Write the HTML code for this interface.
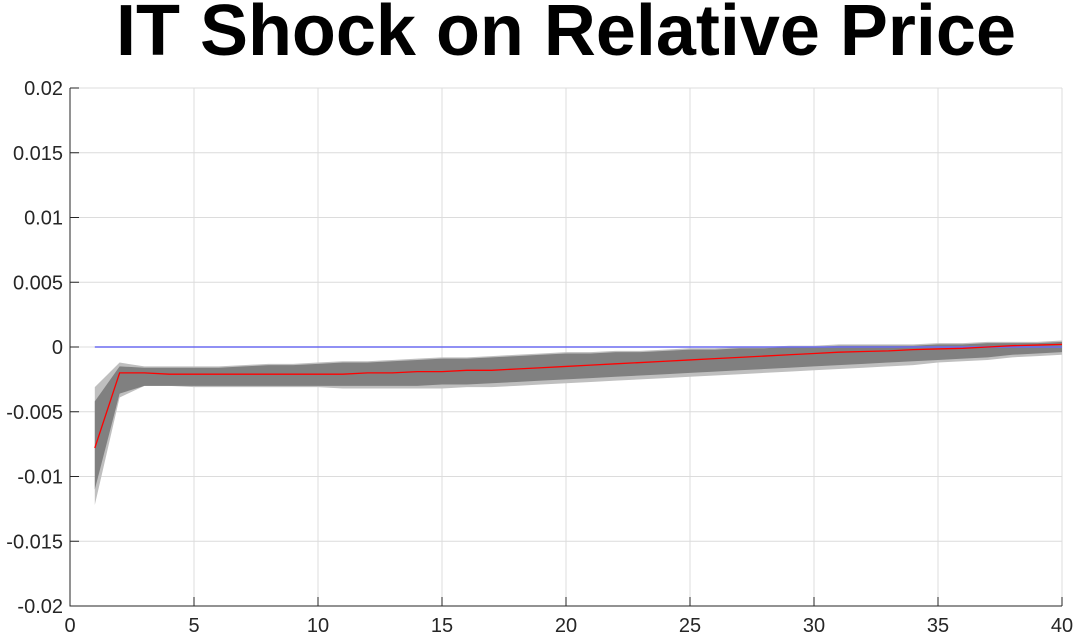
<!DOCTYPE html>
<html><head><meta charset="utf-8">
<style>
body{margin:0;background:#fff;width:1075px;height:635px;overflow:hidden;font-family:"Liberation Sans",sans-serif}
</style></head>
<body>
<svg id="chart" width="1075" height="635" xmlns="http://www.w3.org/2000/svg">
<text x="566" y="55" text-anchor="middle" font-family="Liberation Sans, sans-serif" font-weight="bold" font-size="72" textLength="900" lengthAdjust="spacingAndGlyphs">IT Shock on Relative Price</text>
<g id="grid"></g>
<g id="bands"></g>
<g id="lines"></g>
<g id="axes"></g>
</svg>
<script>
const periods=[1,2,3,4,5,6,7,8,9,10,11,12,13,14,15,16,17,18,19,20,21,22,23,24,25,26,27,28,29,30,31,32,33,34,35,36,37,38,39,40];
const median=[-0.0078,-0.002,-0.002,-0.0021,-0.0021,-0.0021,-0.0021,-0.0021,-0.0021,-0.0021,-0.0021,-0.002,-0.002,-0.0019,-0.0019,-0.0018,-0.0018,-0.0017,-0.0016,-0.0015,-0.0014,-0.0013,-0.0012,-0.0011,-0.001,-0.0009,-0.0008,-0.0007,-0.0006,-0.0005,-0.0004,-0.00035,-0.0003,-0.0002,-0.00015,-0.0001,0,0.0001,0.00015,0.0002];
const innerUpper=[-0.0042,-0.0015,-0.0016,-0.0016,-0.0016,-0.0016,-0.0015,-0.0014,-0.0014,-0.0013,-0.0012,-0.0012,-0.0011,-0.001,-0.0009,-0.0009,-0.0008,-0.0007,-0.0006,-0.0005,-0.0005,-0.0004,-0.0004,-0.0003,-0.0002,-0.0002,-0.0001,-0.0001,0,0,0.0001,0.0001,0.0001,0.0001,0.0002,0.0002,0.0003,0.0003,0.0003,0.0004];
const innerLower=[-0.011,-0.0036,-0.003,-0.003,-0.003,-0.003,-0.003,-0.003,-0.003,-0.003,-0.003,-0.003,-0.003,-0.003,-0.0029,-0.0029,-0.0028,-0.0027,-0.0026,-0.0025,-0.0024,-0.0023,-0.0022,-0.0021,-0.002,-0.0019,-0.0018,-0.0017,-0.0016,-0.0015,-0.0014,-0.0013,-0.0012,-0.0011,-0.001,-0.0009,-0.0008,-0.0006,-0.0005,-0.0004];
const outerUpper=[-0.0031,-0.0012,-0.0015,-0.0015,-0.0015,-0.0015,-0.0014,-0.0013,-0.0013,-0.0012,-0.0011,-0.0011,-0.001,-0.0009,-0.0008,-0.0008,-0.0007,-0.0006,-0.0005,-0.0004,-0.0004,-0.0003,-0.0003,-0.0002,-0.0001,-0.0001,0,0,0.0001,0.0001,0.0002,0.0002,0.0002,0.0002,0.0003,0.0003,0.0004,0.0004,0.0004,0.0005];
const outerLower=[-0.0122,-0.0039,-0.003,-0.003,-0.0031,-0.0031,-0.0031,-0.0031,-0.0031,-0.0031,-0.0032,-0.0032,-0.0032,-0.0032,-0.0032,-0.0031,-0.0031,-0.003,-0.0029,-0.0028,-0.0027,-0.0026,-0.0025,-0.0024,-0.0023,-0.0022,-0.0021,-0.002,-0.0019,-0.0018,-0.0017,-0.0016,-0.0015,-0.0014,-0.0012,-0.0011,-0.001,-0.0008,-0.0007,-0.0006];
const xTicks=[0,5,10,15,20,25,30,35,40];
const yTicks=[-0.02,-0.015,-0.01,-0.005,0,0.005,0.01,0.015,0.02];
const yTickLabels=["-0.02","-0.015","-0.01","-0.005","0","0.005","0.01","0.015","0.02"];
const zeroLine=[0,0];
const zeroX=[1,40];

const L=70,R=1062,T=88,B=606;
const xs=v=>L+(v-0)/(40-0)*(R-L);
const ys=v=>B-(v+0.02)/0.04*(B-T);
const NS="http://www.w3.org/2000/svg";
function mk(tag,attrs,parent){const e=document.createElementNS(NS,tag);for(const k in attrs)e.setAttribute(k,attrs[k]);document.getElementById(parent).appendChild(e);return e;}

xTicks.forEach(t=>{const e=mk('line',{x1:xs(t),x2:xs(t),y1:T,y2:B,stroke:'#dcdcdc','stroke-width':1},'grid');

});
yTicks.forEach(t=>{const e=mk('line',{x1:L,x2:R,y1:ys(t),y2:ys(t),stroke:'#dcdcdc','stroke-width':1},'grid');

});

function band(up,lo,fill,name){
  let d='M'+periods.map((p,i)=>xs(p)+','+ys(up[i])).join('L');
  d+='L'+periods.slice().reverse().map((p,j)=>{const i=periods.length-1-j;return xs(p)+','+ys(lo[i]);}).join('L')+'Z';
  const e=mk('path',{d:d,fill:fill,stroke:'none'},'bands');
  
  
}
band(outerUpper,outerLower,'#bfbfbf','outer-confidence-band');
band(innerUpper,innerLower,'#808080','inner-confidence-band');

const zl=mk('polyline',{points:zeroX.map((p,i)=>xs(p)+','+ys(zeroLine[i])).join(' '),fill:'none',stroke:'#6b6bf0','stroke-width':1.5},'lines');


const ml=mk('polyline',{points:periods.map((p,i)=>xs(p)+','+ys(median[i])).join(' '),fill:'none',stroke:'#ff0000','stroke-width':1.3},'lines');



const ax=mk('path',{d:`M${L},${T}V${B}H${R}`,fill:'none',stroke:'#262626','stroke-width':1},'axes');


yTicks.forEach((t,i)=>{
  const tk=mk('line',{x1:L,x2:L+9,y1:ys(t),y2:ys(t),stroke:'#262626'},'axes');
  
  
  const tx=mk('text',{x:L-7,y:ys(t)+7,'text-anchor':'end','font-size':20,fill:'#262626','font-family':'Liberation Sans, sans-serif'},'axes');
  tx.textContent=yTickLabels[i];
  
  
});
xTicks.forEach(t=>{
  const tk=mk('line',{x1:xs(t),x2:xs(t),y1:B,y2:B-9,stroke:'#262626'},'axes');
  
  
  const tx=mk('text',{x:xs(t),y:B+26,'text-anchor':'middle','font-size':20,fill:'#262626','font-family':'Liberation Sans, sans-serif'},'axes');
  tx.textContent=String(t);
  
  
});
</script>
</body></html>
